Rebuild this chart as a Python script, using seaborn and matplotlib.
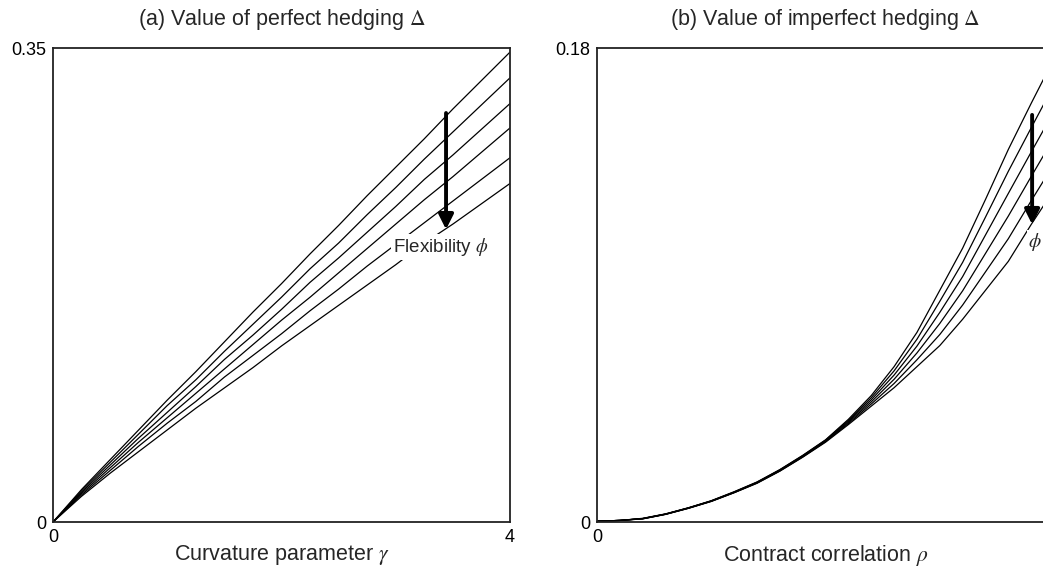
import numpy as np
import matplotlib
matplotlib.use('Agg')
import matplotlib.pyplot as plt
import seaborn as sns
import pandas as pd

# panel (a): perfect hedging value vs curvature gamma, one curve per flexibility level
gamma = [0, 0.25, 0.5, 0.75, 1.0, 1.25, 1.5, 1.75, 2.0, 2.25, 2.5, 2.75, 3.0, 3.25, 3.5, 3.75, 4.0]
perfect = [
    [0, 0.024, 0.046, 0.068, 0.090, 0.111, 0.133, 0.155, 0.176, 0.198, 0.219, 0.241, 0.262, 0.283, 0.305, 0.326, 0.347],
    [0, 0.023, 0.044, 0.065, 0.086, 0.105, 0.126, 0.146, 0.166, 0.187, 0.206, 0.227, 0.247, 0.268, 0.288, 0.308, 0.328],
    [0, 0.022, 0.042, 0.062, 0.081, 0.100, 0.120, 0.138, 0.157, 0.177, 0.195, 0.214, 0.233, 0.253, 0.271, 0.290, 0.309],
    [0, 0.021, 0.040, 0.059, 0.077, 0.095, 0.113, 0.131, 0.149, 0.166, 0.184, 0.202, 0.220, 0.238, 0.255, 0.273, 0.291],
    [0, 0.020, 0.038, 0.056, 0.073, 0.089, 0.107, 0.123, 0.139, 0.156, 0.172, 0.189, 0.205, 0.221, 0.237, 0.253, 0.269],
    [0, 0.019, 0.036, 0.052, 0.068, 0.084, 0.099, 0.114, 0.130, 0.145, 0.160, 0.175, 0.190, 0.206, 0.220, 0.235, 0.250],
]

# panel (b): imperfect hedging value vs contract correlation rho
rho = [0, 0.05, 0.1, 0.15, 0.2, 0.25, 0.3, 0.35, 0.4, 0.45, 0.5,
       0.55, 0.6, 0.65, 0.7, 0.75, 0.8, 0.85, 0.9, 0.95, 1.0]
imperfect = [
    [0.0003, 0.0006, 0.0014, 0.0031, 0.0054, 0.0081, 0.0115, 0.0152, 0.0199, 0.0253, 0.0312,
     0.0390, 0.0480, 0.0590, 0.0720, 0.0880, 0.1040, 0.1225, 0.1415, 0.1590, 0.1760],
    [0.0003, 0.0006, 0.0013, 0.0030, 0.0054, 0.0080, 0.0114, 0.0151, 0.0198, 0.0252, 0.0311,
     0.0386, 0.0472, 0.0574, 0.0694, 0.0838, 0.0986, 0.1158, 0.1332, 0.1497, 0.1660],
    [0.0003, 0.0006, 0.0013, 0.0030, 0.0053, 0.0080, 0.0113, 0.0150, 0.0197, 0.0250, 0.0309,
     0.0382, 0.0464, 0.0558, 0.0668, 0.0796, 0.0932, 0.1090, 0.1248, 0.1405, 0.1560],
    [0.0003, 0.0006, 0.0013, 0.0030, 0.0053, 0.0079, 0.0112, 0.0149, 0.0195, 0.0249, 0.0307,
     0.0378, 0.0456, 0.0542, 0.0642, 0.0754, 0.0878, 0.1020, 0.1162, 0.1312, 0.1460],
    [0.0003, 0.0006, 0.0012, 0.0029, 0.0052, 0.0079, 0.0112, 0.0148, 0.0194, 0.0247, 0.0305,
     0.0374, 0.0448, 0.0526, 0.0616, 0.0712, 0.0824, 0.0950, 0.1076, 0.1220, 0.1360],
    [0.0003, 0.0006, 0.0012, 0.0029, 0.0052, 0.0078, 0.0111, 0.0147, 0.0193, 0.0246, 0.0303,
     0.0370, 0.0440, 0.0510, 0.0590, 0.0670, 0.0770, 0.0880, 0.0990, 0.1130, 0.1262],
]


def to_long(x, curves):
    rows = []
    for k, ys in enumerate(curves):
        for xi, yi in zip(x, ys):
            rows.append((k, xi, yi))
    return pd.DataFrame(rows, columns=['phi', 'x', 'y'])


sns.set_style('white')
plt.rcParams['font.family'] = ['Liberation Sans', 'DejaVu Sans']
plt.rcParams['mathtext.fontset'] = 'stix'

fig = plt.figure(figsize=(10.43, 5.71), dpi=100)
ax1 = fig.add_axes([0.0508, 0.0858, 0.4382, 0.8301])
ax2 = fig.add_axes([0.5724, 0.0858, 0.4382, 0.8301])

df_a = to_long(gamma, perfect)
df_b = to_long(rho, imperfect)
sns.lineplot(data=df_a, x='x', y='y', units='phi', estimator=None, color='black', lw=0.9, ax=ax1)
sns.lineplot(data=df_b, x='x', y='y', units='phi', estimator=None, color='black', lw=0.9, ax=ax2)

ax1.set_xlim(0, 4)
ax1.set_ylim(0, 0.35)
ax1.set_xticks([0, 4])
ax1.set_xticklabels(['0', '4'])
ax1.set_yticks([0, 0.35])
ax1.set_yticklabels(['0', '0.35'])
ax1.set_title(r'(a) Value of perfect hedging $\Delta$', fontsize=15.5, pad=16.5)
ax1.set_xlabel(r'Curvature parameter $\gamma$', fontsize=15.5, labelpad=-2)
ax1.set_ylabel('')

# the right panel runs past the figure edge, so its "1" tick is not shown
ax2.set_xlim(0, 1)
ax2.set_ylim(0, 0.18)
ax2.set_xticks([0])
ax2.set_xticklabels(['0'])
ax2.set_yticks([0, 0.18])
ax2.set_yticklabels(['0', '0.18'])
ax2.set_title(r'(b) Value of imperfect hedging $\Delta$', fontsize=15.5, pad=16.5)
ax2.set_xlabel(r'Contract correlation $\rho$', fontsize=15.5, labelpad=-2)
ax2.set_ylabel('')

for ax in (ax1, ax2):
    for s in ax.spines.values():
        s.set_visible(True)
        s.set_color('#222222')
        s.set_linewidth(1.3)
    ax.tick_params(length=0, labelsize=13, pad=5, colors='black')

arrow = dict(arrowstyle='-|>', lw=2.8, color='black', mutation_scale=22, shrinkA=0, shrinkB=0)
ax1.annotate('', xy=(3.44, 0.216), xytext=(3.44, 0.302), arrowprops=arrow)
ax1.text(3.39, 0.203, r'Flexibility $\phi$', fontsize=13.5, ha='center', va='center',
         bbox=dict(fc='white', ec='none', pad=1.5))
ax2.annotate('', xy=(0.952, 0.113), xytext=(0.952, 0.1546), arrowprops=arrow)
ax2.text(0.958, 0.1063, r'$\phi$', fontsize=14, ha='center', va='center',
         bbox=dict(fc='white', ec='none', pad=0.5))

plt.savefig('out.png', dpi=100)
